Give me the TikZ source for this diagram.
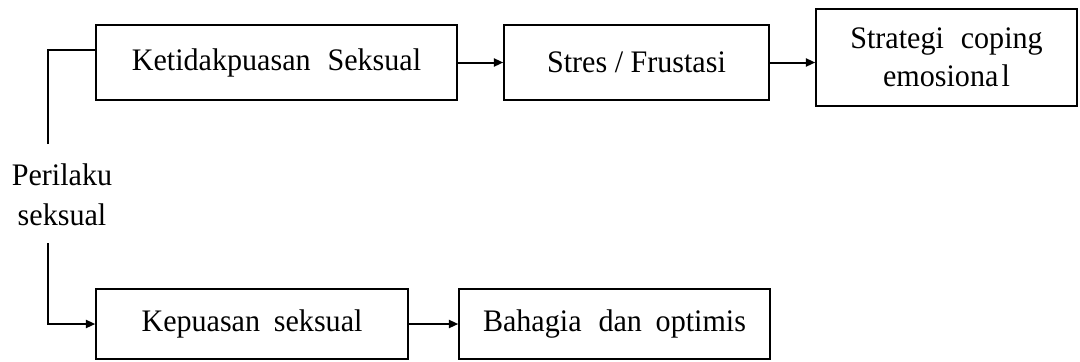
\documentclass[tikz,border=0pt]{standalone}
\usepackage{fontspec}
\setmainfont{Liberation Serif}[FakeStretch=0.96]
\usetikzlibrary{arrows.meta,calc}
\begin{document}
\begin{tikzpicture}[x=0.75pt,y=-0.75pt,
  box/.style={draw,line width=1.1pt,inner sep=0pt,align=center,font=\fontsize{23.5}{28.5}\selectfont},
  lbl/.style={inner sep=0pt,align=center,font=\fontsize{23.5}{30}\selectfont},
  conn/.style={line width=1.1pt},
  arr/.style={line width=1.5pt,-{Triangle[length=7pt,width=6pt]}}]
\useasboundingbox (0,0) rectangle (1080,361);
\node[box,minimum width=270.75pt,minimum height=56.25pt] (k) at (276.5,62.5) {Ketidakpuasan\hspace{0.3em} Seksual};
\node[box,minimum width=198.75pt,minimum height=56.25pt] (s) at (636.5,62.5) {Stres / Frustasi};
\node[box,minimum width=195.75pt,minimum height=72.75pt] (e) at (946.5,57.5) {Strategi\hspace{0.3em} coping\\emosiona\hspace{0.1em}l};
\node[box,minimum width=234pt,minimum height=52.5pt] (kp) at (252,324) {Kepuasan\hspace{0.2em} seksual};
\node[box,minimum width=233.25pt,minimum height=52.5pt] (b) at (614.5,324) {Bahagia\hspace{0.3em} dan\hspace{0.2em} optimis};
\node[lbl] (p) at (62,195) {Perilaku\\seksual};
\coordinate (pt) at (48,144);
\coordinate (pb) at (48,243);
\draw[conn] (pt) |- ([yshift=9.4pt]k.west);
\draw[arr] (pb) |- (kp.west);
\draw[arr] (k) -- (s);
\draw[arr] (s.east) -- (e.west |- s.east);
\draw[arr] (kp) -- (b);
\end{tikzpicture}
\end{document}
